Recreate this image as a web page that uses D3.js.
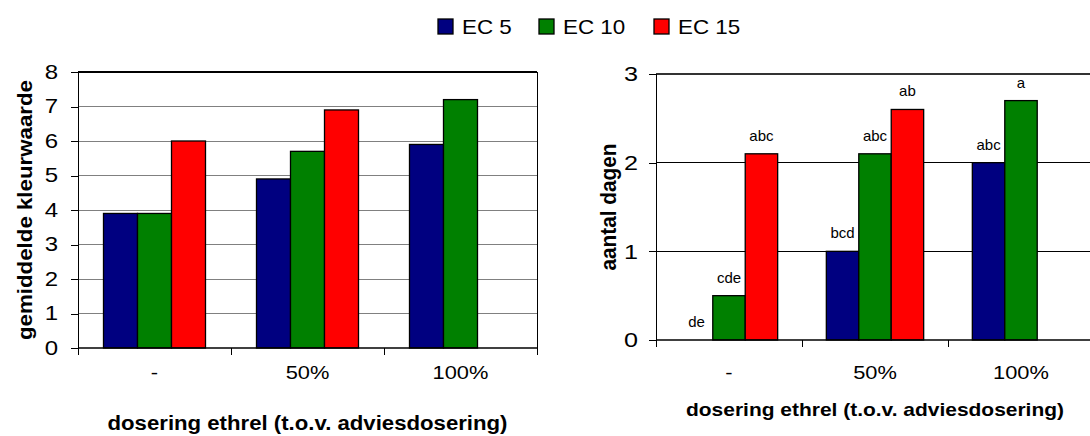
<!DOCTYPE html>
<html>
<head>
<meta charset="utf-8">
<script src="https://cdn.jsdelivr.net/npm/d3@7"></script>
<style>
  html, body { margin: 0; padding: 0; background: #fff; }
  svg { display: block; font-family: "Liberation Sans", Arial, sans-serif; }
  .wide-r { transform-box: fill-box; transform-origin: right center; }
  .wide-c { transform-box: fill-box; transform-origin: center center; }
  .wide-l { transform-box: fill-box; transform-origin: left center; }
</style>
</head>
<body>
<svg id="chart" width="1090" height="436"></svg>
<script>
// Categories and series
const categories = ["-", "50%", "100%"];
const seriesNames = ["EC 5", "EC 10", "EC 15"];
const seriesColors = ["#000080", "#008000", "#ff0000"];

// Left panel: mean colour value per dose and EC level
const kleurEC5  = [3.9, 4.9, 5.9];
const kleurEC10 = [3.9, 5.7, 7.2];
const kleurEC15 = [6.0, 6.9, null];
const kleurTicks = [0, 1, 2, 3, 4, 5, 6, 7, 8];

// Right panel: number of days per dose and EC level, with significance letters
const dagenEC5  = [0, 1.0, 2.0];
const dagenEC10 = [0.5, 2.1, 2.7];
const dagenEC15 = [2.1, 2.6, null];
const lettersEC5  = ["de", "bcd", "abc"];
const lettersEC10 = ["cde", "abc", "a"];
const lettersEC15 = ["abc", "ab", null];
const dagenTicks = [0, 1, 2, 3];

const xTitle = "dosering ethrel (t.o.v. adviesdosering)";

const svg = d3.select("#chart");

function buildRows(seriesValues, seriesLetters) {
  const rows = [];
  categories.forEach((c, ci) => {
    seriesNames.forEach((s, si) => {
      const v = seriesValues[si][ci];
      if (v === null) return;
      rows.push({
        cat: c, series: s, si, value: v,
        letter: seriesLetters ? seriesLetters[si][ci] : null
      });
    });
  });
  return rows;
}

function drawPanel(opt) {
  const g = svg.append("g");
  const x = d3.scaleBand().domain(categories).range([opt.x0, opt.x1]).padding(0);
  const xs = d3.scaleBand().domain(seriesNames).range([0, x.bandwidth()])
    .paddingInner(0).paddingOuter(0.75);
  const y = d3.scaleLinear().domain([0, opt.max]).range([opt.yBot, opt.yTop]);

  // Gridlines
  g.append("g").selectAll("line").data(opt.ticks.filter(t => t > 0)).join("line")
    .attr("x1", opt.x0).attr("x2", opt.x1)
    .attr("y1", d => y(d)).attr("y2", d => y(d))
    .attr("stroke", d => d === opt.max ? opt.topColor : opt.gridColor)
    .attr("stroke-width", d => d === opt.max ? opt.topWidth : 1)
    .attr("shape-rendering", "crispEdges");

  if (opt.rightBorder) {
    g.append("line").attr("x1", opt.x1).attr("x2", opt.x1)
      .attr("y1", y(opt.max)).attr("y2", opt.yBot)
      .attr("stroke", "#000").attr("shape-rendering", "crispEdges");
  }

  // Bars
  const rows = buildRows(opt.values, opt.letters);
  g.append("g").selectAll("rect").data(rows).join("rect")
    .attr("x", d => x(d.cat) + xs(d.series))
    .attr("width", xs.bandwidth())
    .attr("y", d => y(d.value))
    .attr("height", d => y(0) - y(d.value))
    .attr("fill", d => seriesColors[d.si])
    .attr("stroke", "#000").attr("stroke-width", 1.3);

  // Significance letters
  if (opt.letters) {
    g.append("g").selectAll("text").data(rows.filter(d => d.letter)).join("text")
      .attr("x", d => x(d.cat) + xs(d.series) + xs.bandwidth() / 2)
      .attr("y", d => y(d.value) - 13)
      .attr("text-anchor", "middle")
      .attr("font-size", 15)
      .attr("fill", "#000")
      .text(d => d.letter);
  }

  // Y axis
  const yAxis = d3.axisLeft(y).tickValues(opt.ticks).tickSize(7).tickPadding(opt.tickPad)
    .tickFormat(d3.format("d"));
  const ya = g.append("g").attr("transform", `translate(${opt.x0},0)`).call(yAxis);
  ya.select(".domain").remove();
  ya.selectAll(".tick line").attr("stroke", "#000").attr("shape-rendering", "crispEdges");
  ya.selectAll(".tick text").attr("font-size", opt.yFont).attr("fill", "#000")
    .attr("font-family", "Liberation Sans, Arial, sans-serif")
    .attr("class", "wide-r").style("transform", `scaleX(${opt.yStretch})`);
  g.append("line").attr("x1", opt.x0).attr("x2", opt.x0)
    .attr("y1", y(opt.max)).attr("y2", opt.yBot + 7)
    .attr("stroke", "#000").attr("shape-rendering", "crispEdges");

  // X axis: ticks at category boundaries, labels centred in bands
  g.append("line").attr("x1", opt.x0).attr("x2", opt.x1)
    .attr("y1", opt.yBot).attr("y2", opt.yBot)
    .attr("stroke", "#000").attr("stroke-width", 1.3);
  const bounds = categories.map(c => x(c)).concat([opt.x1]);
  g.append("g").selectAll("line").data(bounds).join("line")
    .attr("x1", d => d).attr("x2", d => d)
    .attr("y1", opt.yBot).attr("y2", opt.yBot + 7)
    .attr("stroke", "#000").attr("shape-rendering", "crispEdges");
  g.append("g").selectAll("text").data(categories).join("text")
    .attr("x", d => x(d) + x.bandwidth() / 2)
    .attr("y", 379)
    .attr("text-anchor", "middle")
    .attr("font-size", opt.xFont)
    .attr("fill", "#000")
    .attr("class", "wide-c").style("transform", "scaleX(1.15)")
    .text(d => d);

  // Axis titles
  g.append("text")
    .attr("x", (opt.x0 + opt.x1) / 2).attr("y", opt.xTitleY)
    .attr("text-anchor", "middle").attr("font-weight", "bold")
    .attr("font-size", opt.xTitleFont)
    .attr("textLength", opt.xTitleLen).attr("lengthAdjust", "spacingAndGlyphs")
    .text(xTitle);
  g.append("text")
    .attr("transform", `translate(${opt.yTitleX},${(opt.yTop + opt.yBot) / 2}) rotate(-90)`)
    .attr("text-anchor", "middle").attr("dominant-baseline", "central")
    .attr("font-weight", "bold")
    .attr("font-size", opt.yTitleFont)
    .attr("textLength", opt.yTitleLen).attr("lengthAdjust", "spacingAndGlyphs")
    .text(opt.yTitle);
}

drawPanel({
  x0: 78, x1: 537, yTop: 72, yBot: 348, max: 8,
  ticks: kleurTicks,
  values: [kleurEC5, kleurEC10, kleurEC15],
  letters: null,
  gridColor: "#808080", topColor: "#000", topWidth: 1.5,
  rightBorder: true,
  tickPad: 13, yFont: 20, yStretch: 1.2, xFont: 19,
  xTitleY: 430, xTitleFont: 20, xTitleLen: 400,
  yTitle: "gemiddelde kleurwaarde", yTitleX: 24, yTitleFont: 21, yTitleLen: 260
});

drawPanel({
  x0: 656, x1: 1094, yTop: 74, yBot: 340, max: 3,
  ticks: dagenTicks,
  values: [dagenEC5, dagenEC10, dagenEC15],
  letters: [lettersEC5, lettersEC10, lettersEC15],
  gridColor: "#000", topColor: "#333", topWidth: 1.2,
  rightBorder: false,
  tickPad: 11, yFont: 21, yStretch: 1.2, xFont: 19,
  xTitleY: 416, xTitleFont: 19, xTitleLen: 378,
  yTitle: "aantal dagen", yTitleX: 608, yTitleFont: 22, yTitleLen: 127
});

// Legend
const legendX = [438, 539, 654];
const legend = svg.append("g");
const items = legend.selectAll("g").data(seriesNames).join("g")
  .attr("transform", (d, i) => `translate(${legendX[i]},19)`);
items.append("rect").attr("width", 15).attr("height", 15)
  .attr("fill", (d, i) => seriesColors[i]).attr("stroke", "#000").attr("stroke-width", 1.3);
items.append("text").attr("x", 24).attr("y", 14.5)
  .attr("font-size", 20).attr("fill", "#000")
  .attr("class", "wide-l").style("transform", "scaleX(1.12)")
  .text(d => d);
</script>
</body>
</html>
